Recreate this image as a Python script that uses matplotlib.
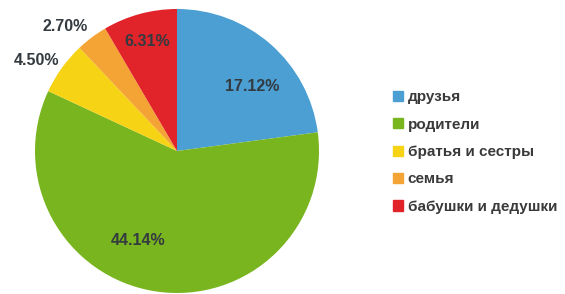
import numpy as np
import matplotlib
matplotlib.use('Agg')
import matplotlib.pyplot as plt

labels = ['друзья', 'родители', 'братья и сестры', 'семья', 'бабушки и дедушки']
values = [17.12, 44.14, 4.50, 2.70, 6.31]
colors = ['#4b9fd3', '#79b51f', '#f6d314', '#f4a434', '#e1232a']

# where each percent label sits: fraction of radius, angle shift from slice middle
label_r = [0.70, 0.69, 1.18, 1.18, 0.80]
label_shift = [-8, -15, 3, 5, 0]

plt.rcParams['font.family'] = ['Liberation Sans', 'DejaVu Sans']

fig = plt.figure(figsize=(5.65, 2.94), dpi=100)
ax = fig.add_axes([(177 - 142) / 565, (143 - 142) / 294, 284 / 565, 284 / 294])

wedges, _ = ax.pie(values, colors=colors, startangle=90, counterclock=False,
                   wedgeprops=dict(linewidth=0))
ax.set_xlim(-1, 1)
ax.set_ylim(-1, 1)
ax.set_aspect('equal')

for w, v, r, s in zip(wedges, values, label_r, label_shift):
    mid = np.deg2rad((w.theta1 + w.theta2) / 2 + s)
    ax.text(r * np.cos(mid), r * np.sin(mid), f'{v:.2f}%', ha='center', va='center',
            fontsize=11.5, fontweight='bold', color='#333a40', clip_on=False)

handles = [plt.Rectangle((0, 0), 1, 1, color=c) for c in colors]
fig.legend(handles, labels, loc='upper left', bbox_to_anchor=(387 / 565, 1 - 84 / 294),
           frameon=False, handlelength=0.65, handleheight=0.65,
           handletextpad=0.3, labelspacing=0.88, borderaxespad=0,
           prop=dict(weight='bold', size=11), labelcolor='#3a3a3a')

fig.savefig('out.png', dpi=100)
